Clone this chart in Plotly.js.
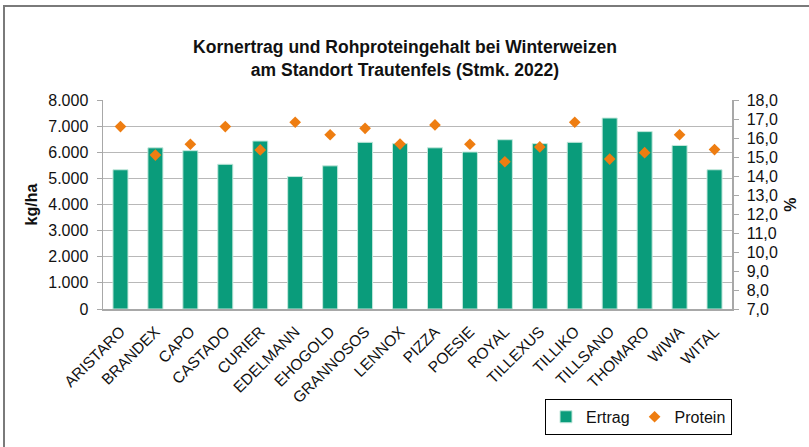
<!DOCTYPE html>
<html>
<head>
<meta charset="utf-8">
<script src="https://cdn.plot.ly/plotly-3.0.1.min.js"></script>
<style>
html,body{margin:0;padding:0;background:#fff;}
#wrap{position:relative;width:809px;height:447px;overflow:hidden;}
#chart{position:absolute;left:0;top:0;width:809px;height:447px;}
#frame{position:absolute;left:3px;top:5px;width:820px;height:460px;border-top:2px solid #7a7a7a;border-left:2px solid #7a7a7a;pointer-events:none;}
</style>
</head>
<body>
<div id="wrap"><div id="chart"></div><div id="frame"></div></div>
<script>
const sorten = ["ARISTARO","BRANDEX","CAPO","CASTADO","CURIER","EDELMANN","EHOGOLD","GRANNOSOS","LENNOX","PIZZA","POESIE","ROYAL","TILLEXUS","TILLIKO","TILLSANO","THOMARO","WIWA","WITAL"];
const ertrag = [5330,6170,6060,5540,6430,5070,5480,6380,6330,6170,6010,6480,6330,6380,7310,6790,6260,5330];
const protein = [16.6,15.1,15.67,16.6,15.37,16.83,16.17,16.51,15.68,16.69,15.67,14.75,15.53,16.83,14.89,15.23,16.17,15.39];
const leftTicks = [0,1000,2000,3000,4000,5000,6000,7000,8000];
const rightTicks = [7,8,9,10,11,12,13,14,15,16,17,18];

const font = "Liberation Sans, Arial, Helvetica, sans-serif";

const traces = [
  {type:"bar", name:"Ertrag", x:sorten, y:ertrag, yaxis:"y",
   marker:{color:"#0a9c7b", line:{color:"#c4e8dc", width:1}}},
  {type:"scatter", mode:"markers", name:"Protein", x:sorten, y:protein, yaxis:"y2",
   marker:{symbol:"diamond", size:9, color:"#ee7d11"}}
];

const layout = {
  width:809, height:447,
  margin:{l:103, r:77, t:100, b:135},
  paper_bgcolor:"#fff", plot_bgcolor:"#fff",
  separators:",.",
  font:{family:font, size:16, color:"#111"},
  bargap:0.57,
  showlegend:true,
  title:{text:"<b>Kornertrag und Rohproteingehalt bei Winterweizen<br>am Standort Trautenfels (Stmk. 2022)</b>",
         font:{family:font, size:17.5, color:"#111"}, xref:"container", x:405/809, xanchor:"center",
         yref:"container", y:1-53/447, yanchor:"top"},
  xaxis:{type:"category", range:[-0.5,17.5], tickangle:-45, tickfont:{family:font,size:15.5,color:"#111"},
         ticklabelstandoff:6,
         showline:true, linecolor:"#a8a8a8", linewidth:1.5, ticks:"", showgrid:false, automargin:false},
  yaxis:{range:[0,8000], tickvals:leftTicks, tickformat:",d", showgrid:true, gridcolor:"#b8b8b8", gridwidth:1.2,
         showline:true, linecolor:"#a8a8a8", linewidth:1.5, ticks:"outside", ticklen:5, tickcolor:"#a8a8a8",
         ticklabelstandoff:5,
         tickfont:{family:font,size:16,color:"#111"}, zeroline:false, automargin:false,
         title:{text:"<b>kg/ha</b>", font:{family:font,size:16,color:"#111"}, standoff:6}},
  yaxis2:{range:[7,18], tickvals:rightTicks, tickformat:".1f", overlaying:"y", side:"right", showgrid:false,
         showline:true, linecolor:"#a8a8a8", linewidth:1.5, ticks:"outside", ticklen:5, tickcolor:"#a8a8a8",
         ticklabelstandoff:5,
         tickfont:{family:font,size:16,color:"#111"}, zeroline:false, automargin:false,
         title:{text:"<b>%</b>", font:{family:font,size:16,color:"#111"}, standoff:8}},
  legend:{orientation:"h", x:1, xanchor:"right", y:-0.43, yanchor:"top",
          bordercolor:"#000", borderwidth:1, bgcolor:"#fff",
          font:{family:font,size:16,color:"#111"}, itemwidth:30, tracegroupgap:0}
};

Plotly.newPlot("chart", traces, layout, {displayModeBar:false, staticPlot:true});
</script>
</body>
</html>
